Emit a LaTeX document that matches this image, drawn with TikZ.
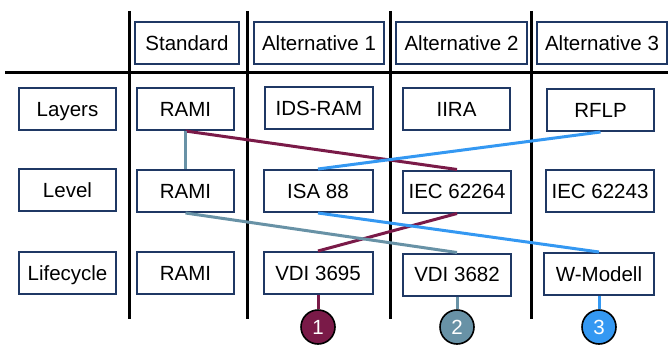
\documentclass[tikz,border=0pt]{standalone}
\usepackage{fontspec}
\setmainfont{Liberation Sans}
\definecolor{boxblue}{RGB}{31,56,100}
\definecolor{pathone}{RGB}{122,26,72}
\definecolor{pathtwo}{RGB}{104,146,166}
\definecolor{paththree}{RGB}{52,152,242}
\tikzset{
    cell/.style={draw=boxblue,line width=2pt,fill=white,minimum width=97pt,minimum height=42pt,inner sep=0pt,
        text height=14.7pt,text depth=0pt,font=\fontsize{20.5}{23}\selectfont},
    marker/.style={circle,draw=black,line width=1.6pt,minimum size=34pt,inner sep=0pt,text=white,
        text height=14.7pt,text depth=0pt,font=\fontsize{20.5}{23}\selectfont},
    link/.style={line width=3pt}
}
\begin{document}
\begin{tikzpicture}[x=1pt,y=-1pt]
        \useasboundingbox (0,0) rectangle (668,345);
        % grid
        \draw[line width=3pt] (5,72) -- (668,72);
        \foreach \x in {129,247,390,531}
            \draw[line width=3pt] (\x,11) -- (\x,319);
        % header
        \node[cell,minimum width=104pt] (head-std) at (187,43) {Standard};
        \node[cell,minimum width=130pt] (head-a1) at (319,43) {Alternative 1};
        \node[cell,minimum width=131pt] (head-a2) at (461.5,43) {Alternative 2};
        \node[cell,minimum width=130pt] (head-a3) at (602,43) {Alternative 3};
        % Layers
        \node[cell] (lay) at (67.5,109) {Layers};
        \node[cell] (lay-std) at (185.5,109) {RAMI};
        \node[cell,minimum width=108pt] (lay-a1) at (319,108) {IDS-RAM};
        \node[cell,minimum width=107pt] (lay-a2) at (456.5,109) {IIRA};
        \node[cell,minimum width=107pt] (lay-a3) at (600.5,110) {RFLP};
        % Level
        \node[cell] (lev) at (67.5,190) {Level};
        \node[cell] (lev-std) at (185.5,191) {RAMI};
        \node[cell,minimum width=109pt] (lev-a1) at (318,191) {ISA 88};
        \node[cell,minimum width=108pt] (lev-a2) at (457,191.5) {IEC 62264};
        \node[cell,minimum width=108pt] (lev-a3) at (600,191) {IEC 62243};
        % Lifecycle
        \node[cell] (life) at (67.5,273) {Lifecycle};
        \node[cell] (life-std) at (185.5,273) {RAMI};
        \node[cell,minimum width=109pt] (life-a1) at (318,273) {VDI 3695};
        \node[cell,minimum width=108pt] (life-a2) at (457,274.5) {VDI 3682};
        \node[cell,minimum width=110pt] (life-a3) at (599,274) {W-Modell};
        % markers
        \node[marker,fill=pathone] (m1) at (318,327) {1};
        \node[marker,fill=pathtwo] (m2) at (457,327) {2};
        \node[marker,fill=paththree] (m3) at (599,327) {3};
        % paths
        \draw[link,pathone] (lay-std.south) -- (lev-a2.north);
        \draw[link,pathone] (lev-a2.south) -- (life-a1.north);
        \draw[link,pathone] (life-a1.south) -- (m1.north);
        \draw[link,pathtwo] (lay-std.south) -- (lev-std.north);
        \draw[link,pathtwo] (lev-std.south) -- (life-a2.north);
        \draw[link,pathtwo] (life-a2.south) -- (m2.north);
        \draw[link,paththree] (lay-a3.south) -- (lev-a1.north);
        \draw[link,paththree] (lev-a1.south) -- (life-a3.north);
        \draw[link,paththree] (life-a3.south) -- (m3.north);
    \end{tikzpicture}
\end{document}
